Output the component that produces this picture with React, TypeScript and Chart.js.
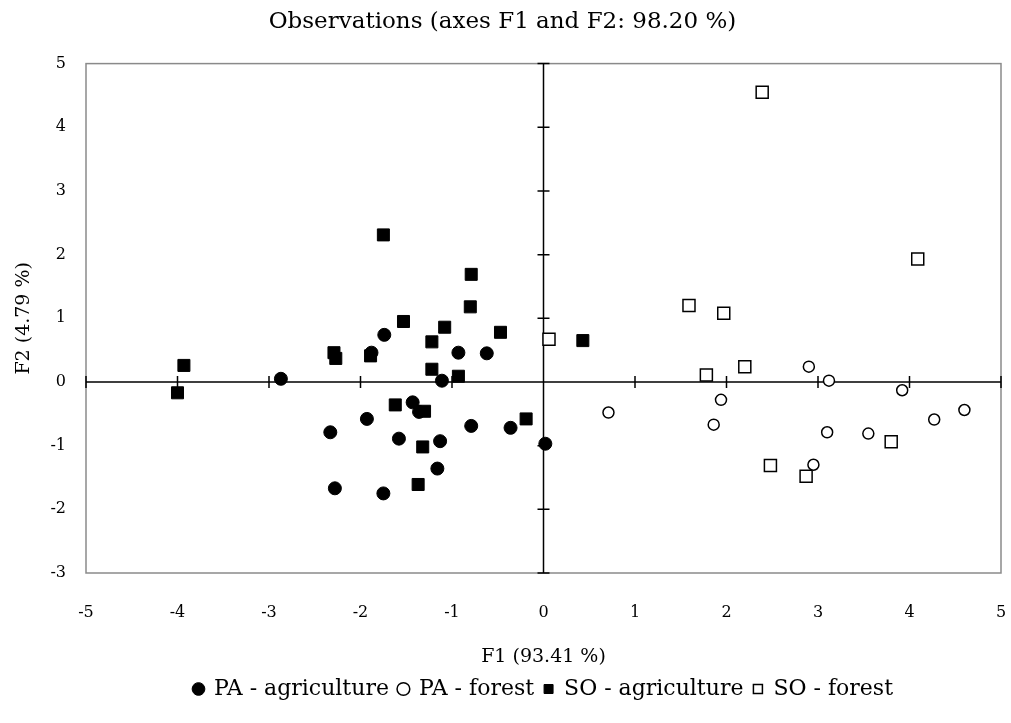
import React, { useEffect, useRef } from "react";
import { Chart, registerables } from "chart.js";

Chart.register(...registerables);

const titleText = "Observations (axes F1 and F2: 98.20 %)";
const xTitle = "F1 (93.41 %)";
const yTitle = "F2 (4.79 %)";
const seriesNames = ["PA - agriculture", "PA - forest", "SO - agriculture", "SO - forest"];

const paAgricultureX = [-2.87, -2.33, -2.28, -1.93, -1.88, -1.74, -1.75, -1.58, -1.43, -1.36, -1.16, -1.13, -1.11, -0.93, -0.79, -0.62, -0.36, 0.02];
const paAgricultureY = [0.05, -0.79, -1.67, -0.58, 0.46, 0.74, -1.75, -0.89, -0.32, -0.47, -1.36, -0.93, 0.02, 0.46, -0.69, 0.45, -0.72, -0.97];

const paForestX = [0.71, 1.86, 1.94, 2.9, 2.95, 3.1, 3.12, 3.55, 3.92, 4.27, 4.6];
const paForestY = [-0.48, -0.67, -0.28, 0.24, -1.3, -0.79, 0.02, -0.81, -0.13, -0.59, -0.44];

const soAgricultureX = [-4.0, -3.93, -2.29, -2.27, -1.89, -1.75, -1.53, -1.22, -1.08, -0.79, -0.8, -0.47, -1.22, -0.93, -1.62, -1.3, -0.19, -1.32, -1.37, 0.43];
const soAgricultureY = [-0.17, 0.26, 0.46, 0.37, 0.41, 2.31, 0.95, 0.63, 0.86, 1.69, 1.18, 0.78, 0.2, 0.09, -0.36, -0.46, -0.58, -1.02, -1.61, 0.65];

const soForestX = [0.06, 1.59, 1.78, 1.97, 2.2, 2.39, 2.48, 2.87, 3.8, 4.09];
const soForestY = [0.67, 1.2, 0.11, 1.08, 0.24, 4.55, -1.31, -1.48, -0.94, 1.93];

const xMin = -5, xMax = 5, yMin = -3, yMax = 5;

const FONT = "'DejaVu Serif', 'Liberation Serif', serif";

function pts(xs: number[], ys: number[]) {
  return xs.map((x, i) => ({ x, y: ys[i] }));
}

const crossAxes = {
  id: "crossAxes",
  beforeDatasetsDraw(chart: any) {
    const { ctx, chartArea, scales } = chart;
    const { left, right, top, bottom } = chartArea;
    const x = scales.x, y = scales.y;
    ctx.save();
    ctx.strokeStyle = "#8a8a8a";
    ctx.lineWidth = 1.5;
    ctx.strokeRect(left, top, right - left, bottom - top);
    const x0 = x.getPixelForValue(0);
    const y0 = y.getPixelForValue(0);
    ctx.strokeStyle = "#000";
    ctx.lineWidth = 1.5;
    ctx.beginPath();
    ctx.moveTo(left, y0);
    ctx.lineTo(right, y0);
    ctx.moveTo(x0, top);
    ctx.lineTo(x0, bottom);
    x.ticks.forEach((t: any) => {
      const px = x.getPixelForValue(t.value);
      ctx.moveTo(px, y0 - 6);
      ctx.lineTo(px, y0 + 6);
    });
    y.ticks.forEach((t: any) => {
      const py = y.getPixelForValue(t.value);
      ctx.moveTo(x0 - 6, py);
      ctx.lineTo(x0 + 6, py);
    });
    ctx.stroke();
    ctx.restore();
  },
};

export default function App() {
  const ref = useRef<HTMLCanvasElement | null>(null);

  useEffect(() => {
    if (!ref.current) return;
    Chart.defaults.color = "#000";
    Chart.defaults.font.family = FONT;
    const chart = new Chart(ref.current, {
      type: "scatter",
      data: {
        datasets: [
          {
            label: seriesNames[0],
            data: pts(paAgricultureX, paAgricultureY),
            pointStyle: "circle",
            pointRadius: 6.5,
            backgroundColor: "#000",
            borderColor: "#000",
            borderWidth: 1,
          },
          {
            label: seriesNames[1],
            data: pts(paForestX, paForestY),
            pointStyle: "circle",
            pointRadius: 5.5,
            backgroundColor: "#fff",
            borderColor: "#000",
            borderWidth: 1.5,
          },
          {
            label: seriesNames[2],
            data: pts(soAgricultureX, soAgricultureY),
            pointStyle: "rect",
            pointRadius: 8.5,
            backgroundColor: "#000",
            borderColor: "#000",
            borderWidth: 1,
          },
          {
            label: seriesNames[3],
            data: pts(soForestX, soForestY),
            pointStyle: "rect",
            pointRadius: 8.5,
            backgroundColor: "#fff",
            borderColor: "#000",
            borderWidth: 1.5,
          },
        ],
      },
      options: {
        animation: false,
        responsive: true,
        maintainAspectRatio: false,
        layout: { padding: { left: 0, right: 6, top: 0, bottom: 13 } },
        plugins: {
          tooltip: { enabled: false },
          title: {
            display: true,
            text: titleText,
            color: "#000",
            font: { family: FONT, size: 23, weight: "normal" },
            padding: { top: 8, bottom: 28 },
          },
          legend: {
            position: "bottom",
            fullSize: false,
            labels: {
              usePointStyle: true,
              boxWidth: 9,
              boxHeight: 9,
              padding: 10,
              color: "#000",
              font: { family: FONT, size: 22 },
            },
          },
        },
        scales: {
          x: {
            type: "linear",
            min: xMin,
            max: xMax,
            grid: { display: false, drawTicks: true, tickLength: 29 },
            border: { display: false },
            ticks: { stepSize: 1, padding: 1, font: { family: FONT, size: 16 }, color: "#000" },
            title: {
              display: true,
              text: xTitle,
              color: "#000",
              font: { family: FONT, size: 19 },
              padding: { top: 0, bottom: 0 },
            },
            afterFit(scale: any) {
              scale.height = 95;
              scale.paddingLeft = 0;
              scale.paddingRight = 0;
            },
          },
          y: {
            type: "linear",
            min: yMin,
            max: yMax,
            grid: { display: false, drawTicks: true, tickLength: 19 },
            border: { display: false },
            ticks: { stepSize: 1, padding: 1, font: { family: FONT, size: 16 }, color: "#000" },
            title: {
              display: true,
              text: yTitle,
              color: "#000",
              font: { family: FONT, size: 19 },
              padding: { top: 13, bottom: 0 },
            },
            afterFit(scale: any) {
              scale.width = 86;
            },
          },
        },
      },
      plugins: [crossAxes],
    });
    return () => chart.destroy();
  }, []);

  return (
    <div style={{ position: "absolute", left: 0, top: 0, width: 1011, height: 723 }}>
      <canvas ref={ref} />
    </div>
  );
}
